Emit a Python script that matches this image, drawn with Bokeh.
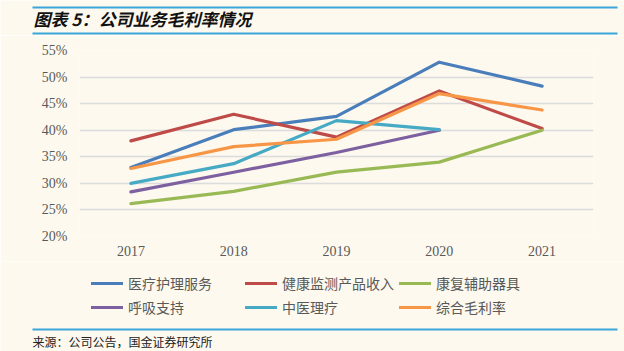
from bokeh.plotting import figure
from bokeh.models import (FactorRange, Range1d, FixedTicker, PrintfTickFormatter,
                          Legend, LegendItem, Label, BoxAnnotation)
from bokeh.layouts import column
from bokeh.embed import file_html
from bokeh.resources import INLINE

years = ["2017", "2018", "2019", "2020", "2021"]
s_medical = [33.0, 40.1, 42.6, 52.8, 48.3]
s_health = [38.0, 43.0, 38.7, 47.4, 40.3]
s_rehab = [26.2, 28.5, 32.1, 34.0, 40.0]
s_resp = [28.4, 32.1, 35.8, 40.0]
s_tcm = [30.0, 33.7, 41.8, 40.1]
s_total = [32.8, 36.9, 38.3, 46.9, 43.8]

names = ["医疗护理服务", "健康监测产品收入", "康复辅助器具", "呼吸支持", "中医理疗", "综合毛利率"]
series = [s_medical, s_health, s_rehab, s_resp, s_tcm, s_total]
colors = ["#4A7EBB", "#BE4B48", "#98B954", "#7D60A0", "#46AAC5", "#F79646"]

title_text = "图表 5：公司业务毛利率情况"
source_text = "来源：公司公告，国金证券研究所"

BG = "#FDF9EF"
RULE = "#3BA6DA"
LW = 3.2


def blank_fig(h):
    f = figure(width=624, height=h, output_backend="svg", toolbar_location=None,
               x_range=Range1d(0, 624), y_range=Range1d(0, h),
               x_axis_location=None, y_axis_location=None,
               min_border=0, min_border_left=0, min_border_right=0,
               min_border_top=0, min_border_bottom=0, frame_align=False)
    f.background_fill_color = BG
    f.border_fill_color = BG
    f.outline_line_color = None
    f.grid.grid_line_color = None
    return f


def rule(f, y0):
    f.add_layout(BoxAnnotation(left=32, right=617, bottom=y0, top=y0 + 2,
                               fill_color=RULE, fill_alpha=1, line_color=None))


# ---- title strip (page y 0..35)
top = blank_fig(35)
rule(top, 27)
rule(top, 1)
top.add_layout(Label(x=33, y=17.5, text=title_text, text_font="Noto Sans CJK SC",
                     text_font_size="17px", text_font_style="bold italic",
                     text_color="#111111", text_baseline="middle"))

# ---- main chart (page y 35..261)
p = figure(width=624, height=226, output_backend="svg", toolbar_location=None,
           x_range=FactorRange(*years), y_range=Range1d(20, 55),
           min_border_left=79, min_border_right=31, min_border_top=15,
           min_border_bottom=25, frame_align=False)
p.background_fill_color = BG
p.border_fill_color = BG
p.outline_line_color = None

for vals, c in zip(series, colors):
    p.line(years[:len(vals)], vals, line_color=c, line_width=LW,
           line_cap="round", line_join="round")

p.xgrid.grid_line_color = None
p.ygrid.grid_line_color = "#DCDCDC"
p.ygrid.grid_line_width = 1.5

p.yaxis.ticker = FixedTicker(ticks=[20, 25, 30, 35, 40, 45, 50, 55])
p.yaxis.formatter = PrintfTickFormatter(format="%d%%")
for ax in (p.xaxis[0], p.yaxis[0]):
    ax.axis_line_color = None
    ax.major_tick_line_color = None
    ax.minor_tick_line_color = None
    ax.major_tick_out = 0
    ax.major_tick_in = 0
    ax.major_label_text_font = "Liberation Serif"
    ax.major_label_text_font_size = "14px"
    ax.major_label_text_color = "#595959"
p.yaxis.major_label_standoff = 12
p.xaxis.major_label_standoff = 9

# ---- legend + source strip (page y 261..351)
bot = blank_fig(90)
bot.extra_y_ranges = {"hide": Range1d(500, 600)}
renderers = []
for vals, c in zip(series, colors):
    r = bot.line(list(range(len(vals))), vals, line_color=c, line_width=LW,
                 line_cap="round", y_range_name="hide")
    renderers.append(r)
order = [0, 3, 1, 4, 2, 5]
items = [LegendItem(label=names[i], renderers=[renderers[i]]) for i in order]
legend = Legend(items=items, ncols=3, location=(91, 34),
                glyph_width=32, glyph_height=20, label_height=20,
                label_width=113, label_standoff=5, spacing=4,
                padding=0, margin=0, border_line_alpha=0, background_fill_alpha=0,
                label_text_font="Noto Sans CJK SC", label_text_font_size="14px",
                label_text_color="#595959")
bot.add_layout(legend, "center")
rule(bot, 21)
bot.add_layout(Label(x=32, y=10, text=source_text, text_font="Noto Sans CJK SC",
                     text_font_size="12px", text_color="#222222",
                     text_baseline="middle"))

layout = column(top, p, bot, spacing=0)

open("out.html", "w").write(file_html(layout, INLINE))
